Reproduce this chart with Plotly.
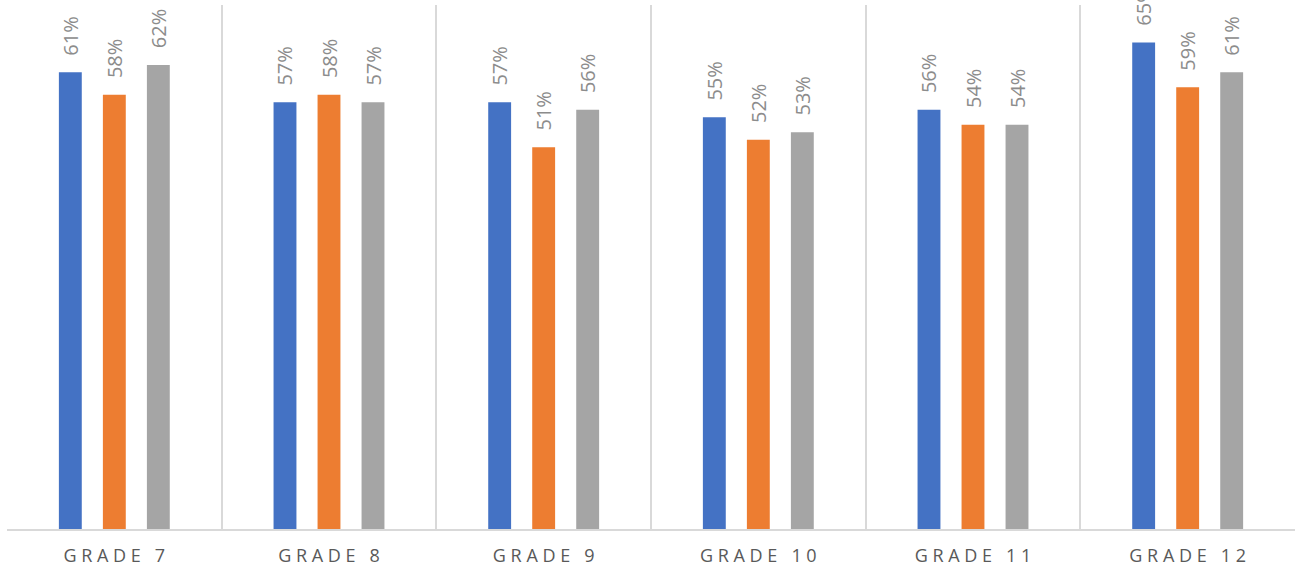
import plotly.graph_objects as go

categories = ["GRADE 7", "GRADE 8", "GRADE 9", "GRADE 10", "GRADE 11", "GRADE 12"]
series_a = [61, 57, 57, 55, 56, 65]
series_b = [58, 58, 51, 52, 54, 59]
series_c = [62, 57, 56, 53, 54, 61]

colors = ["#4472C4", "#ED7D31", "#A5A5A5"]
names = ["Series 1", "Series 2", "Series 3"]

def spaced(label):
    word, num = label.split(" ")
    return " ".join(word) + "   " + " ".join(num)

fig = go.Figure()
for name, vals, col in zip(names, [series_a, series_b, series_c], colors):
    fig.add_trace(go.Bar(
        x=categories, y=vals, name=name,
        marker=dict(color=col, line=dict(width=0)),
        text=[f"\u00a0\u00a0\u2009{v}%" for v in vals],
        textposition="outside", textangle=-90,
        textfont=dict(family="Open Sans", size=20, color="#8c8c8c"),
        cliponaxis=False, constraintext="none",
    ))

fig.update_layout(
    barmode="group", bargap=0.385, bargroupgap=0.48,
    width=1297, height=569,
    margin=dict(l=7, r=2, t=5, b=40),
    paper_bgcolor="white", plot_bgcolor="white",
    showlegend=False,
    xaxis=dict(
        tickson="boundaries", showgrid=True, gridcolor="#d9d9d9", gridwidth=1.5,
        ticks="", showline=True, linecolor="#d9d9d9", linewidth=1.5,
        tickmode="array", tickvals=categories, ticktext=[spaced(c) for c in categories],
        tickfont=dict(family="Open Sans", size=18, color="#595959"),
        ticklabelstandoff=10,
        mirror=False,
    ),
    yaxis=dict(range=[0, 70], visible=False, showgrid=False, zeroline=False),
)

fig.write_html("out.html")
